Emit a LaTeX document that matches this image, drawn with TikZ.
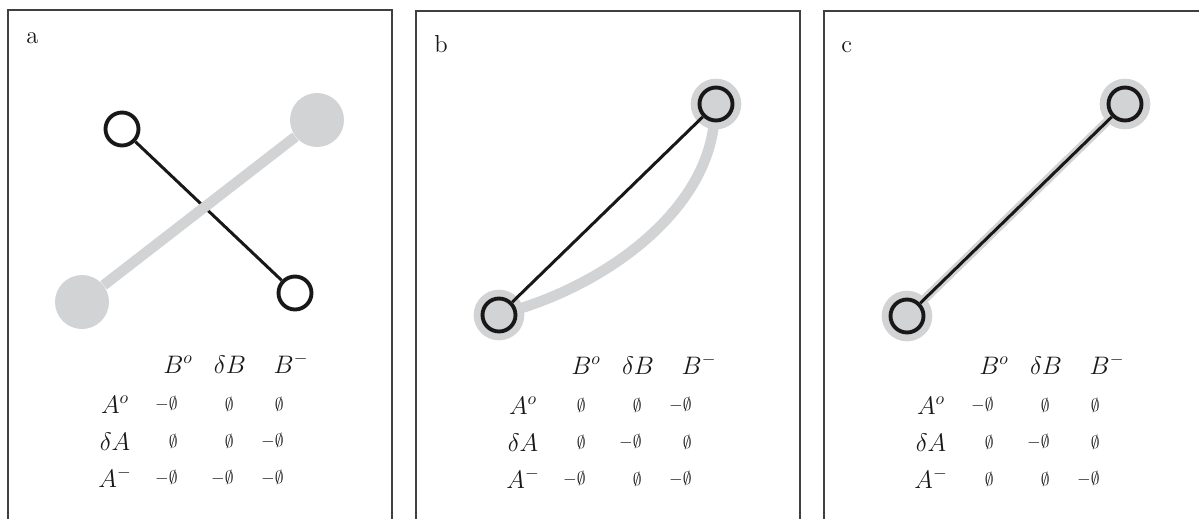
\documentclass[tikz,border=0pt]{standalone}
\usepackage{amsmath,amssymb}
\usetikzlibrary{positioning,backgrounds}
\definecolor{halo}{RGB}{209,211,212}
\definecolor{ink}{RGB}{26,23,23}
\definecolor{rule}{RGB}{64,64,64}
\tikzset{
  frame/.style={draw=rule, line width=0.85pt},
  tag/.style={font=\fontsize{14}{16}\selectfont, text=ink, inner sep=0pt, anchor=base west},
  hd/.style={font=\fontsize{14}{16}\selectfont, text=ink, inner sep=0pt, anchor=base},
  cell/.style={font=\fontsize{10}{12}\selectfont, text=ink, inner sep=0pt, anchor=east},
  blob/.style={circle, fill=halo, minimum size=1.08cm, inner sep=0pt},
  ring/.style={circle, draw=ink, line width=2.2pt, fill=white, minimum size=0.66cm, inner sep=0pt},
  gring/.style={ring, fill=halo, preaction={draw=halo, line width=10pt}},
  link/.style={draw=ink, line width=1.7pt},
  band/.style={draw=halo, line width=6pt},
  thin band/.style={draw=halo, line width=5pt},
}

\begin{document}
\begin{tikzpicture}[x=0.02cm, y=-0.02cm]
  \useasboundingbox (0,0) rectangle (1199,518);

  % ---- panel a: crossing ------------------------------------------
  \begin{scope}[shift={(8,10)}]
    \draw[frame] (0,510) -- (0,0) -- (384,0) -- (384,510);
    \node[tag] (a-tag) at (18,33) {a};
    \node[blob] (a-lo) at (74,292) {};
    \node[blob] (a-hi) at (309,110) {};
    \node[ring] (a-ul) at (114,119) {};
    \node[ring] (a-lr) at (287,283) {};
    \draw[link] (a-ul) -- (a-lr);
    \draw[band] (a-lo) -- (a-hi);
    % table
    \node[hd] (a-h1) at (170,363) {$B^{o}$};
    \node[hd] (a-h2) at (222,363) {$\delta B$};
    \node[hd] (a-h3) at (283,363) {$B^{-}$};
    \foreach \y/\l/\p/\q/\r [count=\i] in {394/{A^{o}}/{-}/{}/{},
                                           431/{\delta A}/{}/{}/{-},
                                           468/{A^{-}}/{-}/{-}/{-}}{
      \node[hd] (a-r\i) at (107,\y+9) {$\l$};
      \node[cell] (a-\i1) at (170,\y) {$\p\emptyset$};
      \node[cell] (a-\i2) at (226,\y) {$\q\emptyset$};
      \node[cell] (a-\i3) at (276,\y) {$\r\emptyset$};
    }
  \end{scope}

  % ---- panel b: bent band -----------------------------------------
  \begin{scope}[shift={(416,11)}]
    \draw[frame] (0,510) -- (0,0) -- (384,0) -- (384,510);
    \node[tag] (b-tag) at (18,41) {b};
    \node[gring] (b-hi) at (300,93) {};
    \node[gring] (b-lo) at (83,304) {};
    \begin{scope}[on background layer]
      \draw[band] (b-lo) .. controls (194,270) and (289,200) .. (b-hi);
    \end{scope}
    \draw[link] (b-lo) -- (b-hi);
    % table
    \node[hd] (b-h1) at (170,363) {$B^{o}$};
    \node[hd] (b-h2) at (222,363) {$\delta B$};
    \node[hd] (b-h3) at (283,363) {$B^{-}$};
    \foreach \y/\l/\p/\q/\r [count=\i] in {394/{A^{o}}/{}/{}/{-},
                                           431/{\delta A}/{}/{-}/{},
                                           468/{A^{-}}/{-}/{}/{-}}{
      \node[hd] (b-r\i) at (107,\y+9) {$\l$};
      \node[cell] (b-\i1) at (170,\y) {$\p\emptyset$};
      \node[cell] (b-\i2) at (226,\y) {$\q\emptyset$};
      \node[cell] (b-\i3) at (276,\y) {$\r\emptyset$};
    }
  \end{scope}

  % ---- panel c: aligned -------------------------------------------
  \begin{scope}[shift={(824,11)}]
    \draw[frame] (0,510) -- (0,0) -- (380,0);
    \node[tag] (c-tag) at (17,41) {c};
    \node[gring] (c-hi) at (301,93) {};
    \node[gring] (c-lo) at (83,305) {};
    \begin{scope}[on background layer]
      \draw[thin band] (c-lo) -- (c-hi);
    \end{scope}
    \draw[link] (c-lo) -- (c-hi);
    % table
    \node[hd] (c-h1) at (170,363) {$B^{o}$};
    \node[hd] (c-h2) at (222,363) {$\delta B$};
    \node[hd] (c-h3) at (283,363) {$B^{-}$};
    \foreach \y/\l/\p/\q/\r [count=\i] in {394/{A^{o}}/{-}/{}/{},
                                           431/{\delta A}/{}/{-}/{},
                                           468/{A^{-}}/{}/{}/{-}}{
      \node[hd] (c-r\i) at (107,\y+9) {$\l$};
      \node[cell] (c-\i1) at (170,\y) {$\p\emptyset$};
      \node[cell] (c-\i2) at (226,\y) {$\q\emptyset$};
      \node[cell] (c-\i3) at (276,\y) {$\r\emptyset$};
    }
  \end{scope}
\end{tikzpicture}
\end{document}
